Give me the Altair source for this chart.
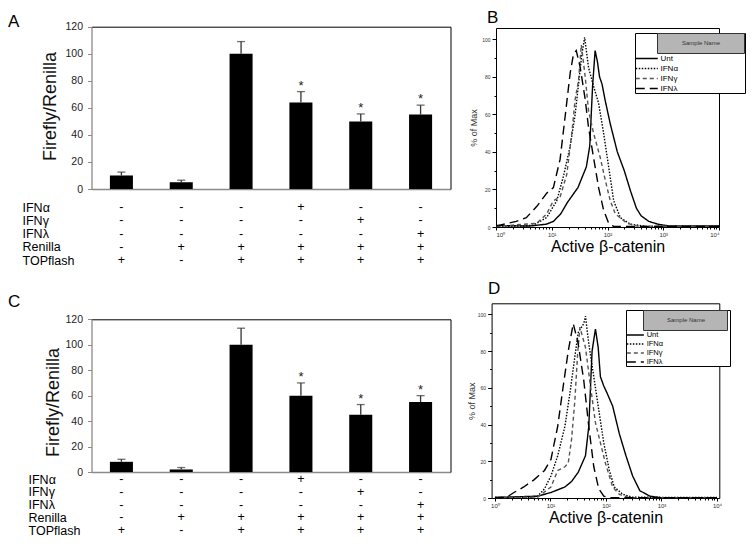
import altair as alt
import pandas as pd

W, H = 738, 528

# ---------------- bar charts (A and C) ----------------
conditions = ["TOPflash", "Renilla", "TOPflash+Renilla", "IFNα", "IFNγ", "IFNλ"]
a_values = [10, 5, 100, 64, 50, 55]
a_errors = [12.5, 6.5, 109, 72, 55.5, 62]
c_values = [8, 2, 100, 60, 45, 55]
c_errors = [10, 3.5, 113, 70, 53, 60]
significance = ["", "", "", "*", "*", "*"]
y_ticks = [0, 20, 40, 60, 80, 100, 120]

table_rows = ["IFNα", "IFNγ", "IFNλ", "Renilla", "TOPflash"]
ifna_signs = ["-", "-", "-", "+", "-", "-"]
ifng_signs = ["-", "-", "-", "-", "+", "-"]
ifnl_signs = ["-", "-", "-", "-", "-", "+"]
renilla_signs = ["-", "+", "+", "+", "+", "+"]
topflash_signs = ["+", "-", "+", "+", "+", "+"]

# ---------------- histograms (B and D) ----------------
samples = ["Unt", "IFNα", "IFNγ", "IFNλ"]
legend_header = ["Sample Name"]
sample_colors = ["black", "black", "#555555", "black"]
sample_dashes = [[1, 0], [1.5, 1.5], [4, 3], [9, 5]]
decades = [1, 10, 100, 1000, 10000]
minor_ticks = [2, 3, 4, 5, 6, 7, 8, 9, 20, 30, 40, 50, 60, 70, 80, 90,
               200, 300, 400, 500, 600, 700, 800, 900,
               2000, 3000, 4000, 5000, 6000, 7000, 8000, 9000]
pct_ticks = [0, 20, 40, 60, 80, 100]
pct_minor = [10, 30, 50, 70, 90]

b_unt_x = [1, 4, 8, 10.7, 14.5, 19, 29.5, 41.7, 48, 54, 60, 66, 72, 80, 90, 112, 150, 200, 260, 330, 400, 550, 800, 1300, 10000]
b_unt_y = [0.8, 0.5, 1.5, 3, 7, 13, 21, 32, 43, 75, 94, 88, 80, 76, 68, 55, 40, 30, 19, 10, 6, 3, 1.5, 0.5, 0.5]
b_ifna_x = [1, 3, 4.7, 8.1, 12.3, 16.2, 21.4, 26.3, 30.2, 34.7, 38.9, 45.7, 56.2, 69.2, 85.1, 105, 129, 170, 257, 513, 10000]
b_ifna_y = [0.5, 0.5, 1, 5, 14, 27, 43, 60, 76, 92, 101, 85, 75, 66, 50, 32, 14, 5, 1.5, 0.3, 0.3]
b_ifng_x = [1, 5.4, 8.1, 10.7, 14.1, 18.6, 22.9, 26.3, 30.2, 33.9, 39.8, 45.7, 56.2, 74.1, 91.2, 112, 138, 224, 339, 10000]
b_ifng_y = [0.3, 2, 7, 14, 16, 28, 50, 68, 78, 97, 80, 62, 50, 37, 25, 14, 7, 2, 0.5, 0.3]
b_ifnl_x = [1, 2.3, 3.5, 5.4, 8.1, 10.7, 14.1, 17.4, 21.4, 24.5, 27.5, 32.4, 39.8, 45.7, 56.2, 69.2, 85.1, 105, 129, 10000]
b_ifnl_y = [0.5, 3, 5, 11, 18, 21, 36, 59, 82, 92, 94, 85, 68, 53, 37, 21, 9, 2, 0.3, 0.3]

d_unt_x = [1, 5.9, 10.2, 18.2, 24, 31.6, 42.7, 49, 56.2, 64.6, 72.4, 79.4, 91.2, 105, 132, 174, 229, 302, 407, 617, 955, 10000]
d_unt_y = [0.3, 1, 3, 6, 9, 14, 23, 39, 80, 92, 82, 66, 61, 57, 50, 35, 23, 12, 4, 1, 0.2, 0.2]
d_ifna_x = [1, 4.4, 5.9, 7.8, 10.2, 13.5, 18.2, 22.4, 27.5, 31.6, 39.8, 42.7, 49, 60.3, 74.1, 91.2, 115, 141, 200, 302, 10000]
d_ifna_y = [0.3, 0.4, 1, 5, 12, 23, 39, 57, 77, 90, 95, 99, 84, 66, 48, 30, 15, 6, 2, 0.4, 0.3]
d_ifng_x = [1, 5.9, 10.2, 13.5, 18.2, 20.9, 24, 27.5, 30.9, 33.9, 42.7, 52.5, 64.6, 79.4, 97.7, 132, 174, 263, 10000]
d_ifng_y = [0.2, 0.5, 6, 15, 17, 19, 32, 53, 79, 93, 82, 61, 41, 30, 19, 6, 2, 0.2, 0.2]
d_ifnl_x = [1, 1.6, 2.2, 3.3, 5.1, 7.8, 10.2, 13.5, 17, 20.9, 25.7, 31.6, 39.8, 49, 60.3, 74.1, 91.2, 115, 10000]
d_ifnl_y = [0.3, 0.3, 3, 6, 10, 15, 21, 39, 61, 80, 95, 84, 64, 39, 17, 5, 1, 0.2, 0.2]


# ---------------- tables built from the lists ----------------
sign_lists = {"IFNα": ifna_signs, "IFNγ": ifng_signs, "IFNλ": ifnl_signs,
              "Renilla": renilla_signs, "TOPflash": topflash_signs}
table_df = pd.DataFrame([
    {"condition": c, "row": r, "sign": s}
    for r in table_rows for c, s in zip(conditions, sign_lists[r])
])


def curves(series):
    recs = []
    for name, xs, ys in series:
        for xv, yv in zip(xs, ys):
            recs.append({"sample": name, "intensity": xv, "pct": yv})
    return pd.DataFrame(recs)


b_df = curves([("Unt", b_unt_x, b_unt_y), ("IFNα", b_ifna_x, b_ifna_y),
               ("IFNγ", b_ifng_x, b_ifng_y), ("IFNλ", b_ifnl_x, b_ifnl_y)])
d_df = curves([("Unt", d_unt_x, d_unt_y), ("IFNα", d_ifna_x, d_ifna_y),
               ("IFNγ", d_ifng_x, d_ifng_y), ("IFNλ", d_ifnl_x, d_ifnl_y)])
header_df = pd.DataFrame({"header": legend_header})


def band_scale(rng):
    return alt.Scale(domain=conditions, range=rng, paddingInner=0.615, paddingOuter=0.3075)


def bar_layers(values, errors, y_rng, row_rng, row_label_x, title_x, title_y, fs):
    x_rng = [83.5, 442.5]
    df = pd.DataFrame({"condition": conditions, "value": values,
                       "error": errors, "sig": significance})

    def ysc():
        return alt.Scale(domain=[0, 120], range=y_rng, nice=False)

    base = alt.Chart(df)
    bars = base.mark_bar(color="black").encode(
        x=alt.X("condition:N", scale=band_scale(x_rng),
                axis=alt.Axis(orient="bottom", offset=y_rng[0] - H, domainColor="#8a8a8a",
                              domainWidth=1.3, ticks=False, labels=False, title=None)),
        y=alt.Y("value:Q", scale=ysc(),
                axis=alt.Axis(orient="left", offset=-x_rng[0], values=y_ticks,
                              domainColor="#8a8a8a", domainWidth=1.3, tickColor="#8a8a8a",
                              tickSize=4, labelFontSize=10.5, labelPadding=5, labelColor="#222",
                              title="Firefly/Renilla", titleFontSize=18, titleColor="#111",
                              titleX=title_x, titleY=title_y, titleBaseline="middle")),
    )
    stems = base.mark_rule(color="#333", strokeWidth=1.3).encode(
        x=alt.X("condition:N", scale=band_scale(x_rng),
                axis=alt.Axis(orient="top", offset=-y_rng[1], domainColor="black",
                              domainWidth=1, ticks=False, labels=False, title=None)),
        y=alt.Y("value:Q", scale=ysc(),
                axis=alt.Axis(orient="right", offset=x_rng[1] - W, domainColor="black",
                              domainWidth=1, ticks=False, labels=False, title=None)),
        y2="error:Q",
    )
    caps = base.mark_tick(color="#333", size=8, thickness=1.3).encode(
        x=alt.X("condition:N", scale=band_scale(x_rng), axis=None),
        y=alt.Y("error:Q", scale=ysc(), axis=None),
    )
    stars = base.mark_text(fontSize=13, dy=-2, baseline="alphabetic", color="#222").encode(
        x=alt.X("condition:N", scale=band_scale(x_rng), axis=None),
        y=alt.Y("error:Q", scale=ysc(), axis=None),
        text="sig:N",
    )
    table = alt.Chart(table_df).mark_text(fontSize=fs, color="black", baseline="middle").encode(
        x=alt.X("condition:N", scale=band_scale(x_rng), axis=None),
        y=alt.Y("row:N", scale=alt.Scale(type="point", domain=table_rows, range=row_rng, padding=0),
                axis=alt.Axis(orient="left", offset=-row_label_x, domain=False, ticks=False,
                              tickSize=0, labelPadding=0, labelAlign="left",
                              labelBaseline="middle", labelFontSize=fs, labelColor="black",
                              title=None)),
        text="sign:N",
    )
    return [bars, stems, caps, stars, table]


NB = "\u00a0"
ZW = "\u200b"


def hist_layers(df, x_dom, x_rng, y_rng, title_x, lg):
    # lg: legend box (x, y, key width, row height, label font, label pad, header label offset, header pad)
    lx, ly, key_w, row_h, lfs, lpad, hoff, hpad = lg

    def xs():
        return alt.Scale(type="log", domain=x_dom, range=x_rng, nice=False)

    def ys():
        return alt.Scale(domain=[0, 106], range=y_rng, nice=False)

    half = row_h / 2.0
    sym_path = "M-1,0H%.3f" % ((key_w - half) / half)

    def leg():
        return alt.Legend(title=ZW + NB + ZW, orient="none", legendX=lx, legendY=ly,
                          direction="vertical", titleFontSize=6, titlePadding=14,
                          labelFontSize=lfs, labelColor="black", labelOffset=key_w + 2 - row_h,
                          labelExpr="pad(datum.label, %d, '%s') + '%s'" % (lpad, NB, ZW),
                          symbolType=sym_path, symbolSize=row_h * row_h, symbolStrokeWidth=1.4,
                          symbolFillColor="transparent",
                          fillColor="white", strokeColor="black", padding=0, rowPadding=0)

    lines = alt.Chart(df).mark_line(strokeWidth=1.4).encode(
        x=alt.X("intensity:Q", scale=xs(),
                axis=alt.Axis(orient="bottom", offset=y_rng[0] - H, values=decades,
                              labelExpr="'10' + ['⁰','¹','²','³','⁴'][round(log(datum.value)/LN10)]",
                              tickSize=3, tickColor="black", domainColor="black",
                              labelFontSize=6, labelPadding=1, labelColor="#333",
                              title="Active β-catenin", titleFontSize=16, titleColor="black",
                              titleY=19, titleBaseline="middle")),
        y=alt.Y("pct:Q", scale=ys(),
                axis=alt.Axis(orient="left", offset=-x_rng[0], values=pct_ticks,
                              tickSize=4, tickColor="black", domainColor="black",
                              labelFontSize=5, labelPadding=2, labelColor="#333",
                              title="% of Max", titleFontSize=9, titleColor="#333",
                              titleX=title_x, titleBaseline="middle")),
        color=alt.Color("sample:N", scale=alt.Scale(domain=samples, range=sample_colors), legend=leg()),
        strokeDash=alt.StrokeDash("sample:N", scale=alt.Scale(domain=samples, range=sample_dashes),
                                  legend=leg()),
    )
    header = alt.Chart(header_df).mark_point(opacity=0).encode(
        x=alt.value(0), y=alt.value(0),
        shape=alt.Shape("header:N", scale=alt.Scale(domain=legend_header),
                        legend=alt.Legend(title=None, orient="none", legendX=lx + key_w, legendY=ly,
                                          padding=0, symbolSize=400, symbolOpacity=0,
                                          symbolStrokeWidth=0, labelFontSize=6, labelColor="#333",
                                          labelOffset=hoff,
                                          labelExpr="datum.label + pad('', %d, '%s') + '%s'" % (hpad, NB, ZW),
                                          fillColor="#b5b5b5", strokeColor="#333")),
    )
    minor = alt.Chart(df).mark_point(opacity=0).encode(
        x=alt.X("intensity:Q", scale=xs(),
                axis=alt.Axis(orient="bottom", offset=y_rng[0] - H, values=minor_ticks,
                              tickSize=2, tickColor="black", domain=False, labels=False, title=None)),
        y=alt.Y("pct:Q", scale=ys(),
                axis=alt.Axis(orient="left", offset=-x_rng[0], values=pct_minor,
                              tickSize=2, tickColor="black", domain=False, labels=False, title=None)),
    )
    frame = alt.Chart(df).mark_point(opacity=0).encode(
        x=alt.X("intensity:Q", scale=xs(),
                axis=alt.Axis(orient="top", offset=-y_rng[1], domainColor="black",
                              ticks=False, labels=False, title=None)),
        y=alt.Y("pct:Q", scale=ys(),
                axis=alt.Axis(orient="right", offset=x_rng[1] - W, domainColor="black",
                              ticks=False, labels=False, title=None)),
    )
    return [lines, header, minor, frame]


def letter(t, x, y):
    return alt.Chart(pd.DataFrame({"t": [t]})).mark_text(
        fontSize=17, align="left", baseline="alphabetic", color="black"
    ).encode(text="t:N", x=alt.value(x), y=alt.value(y))


layers = []
layers += bar_layers(a_values, a_errors, [181, 18.7], [199, 252], 14, -41, 98, 12.5)
layers += bar_layers(c_values, c_errors, [464, 311.3], [471, 522], 20, -38, 394, 12.5)
layers += hist_layers(b_df, [1, 10000], [488, 711], [219, 20], -23,
                      (627, 25, 22, 9.5, 8, 34, 5, 14))
layers += hist_layers(d_df, [0.87, 11000], [483.6, 711.3], [490, 295.3], -20,
                      (618, 302, 17, 8.3, 7.5, 36, 4, 13))
layers += [letter("A", 0, 19), letter("B", 479, 15), letter("C", 0, 299), letter("D", 480, 286)]

chart = alt.layer(*layers).resolve_scale(
    x="independent", y="independent", color="independent", strokeDash="independent",
    shape="independent"
).properties(
    width=W, height=H, padding=0, autosize=alt.AutoSizeParams(type="none")
).configure(
    font="Liberation Sans"
).configure_view(stroke=None).configure_axis(
    grid=False, titleFontWeight="normal", labelFont="Liberation Sans", titleFont="Liberation Sans"
)

chart.save("out.html", embed_options={"renderer": "svg", "actions": False})
